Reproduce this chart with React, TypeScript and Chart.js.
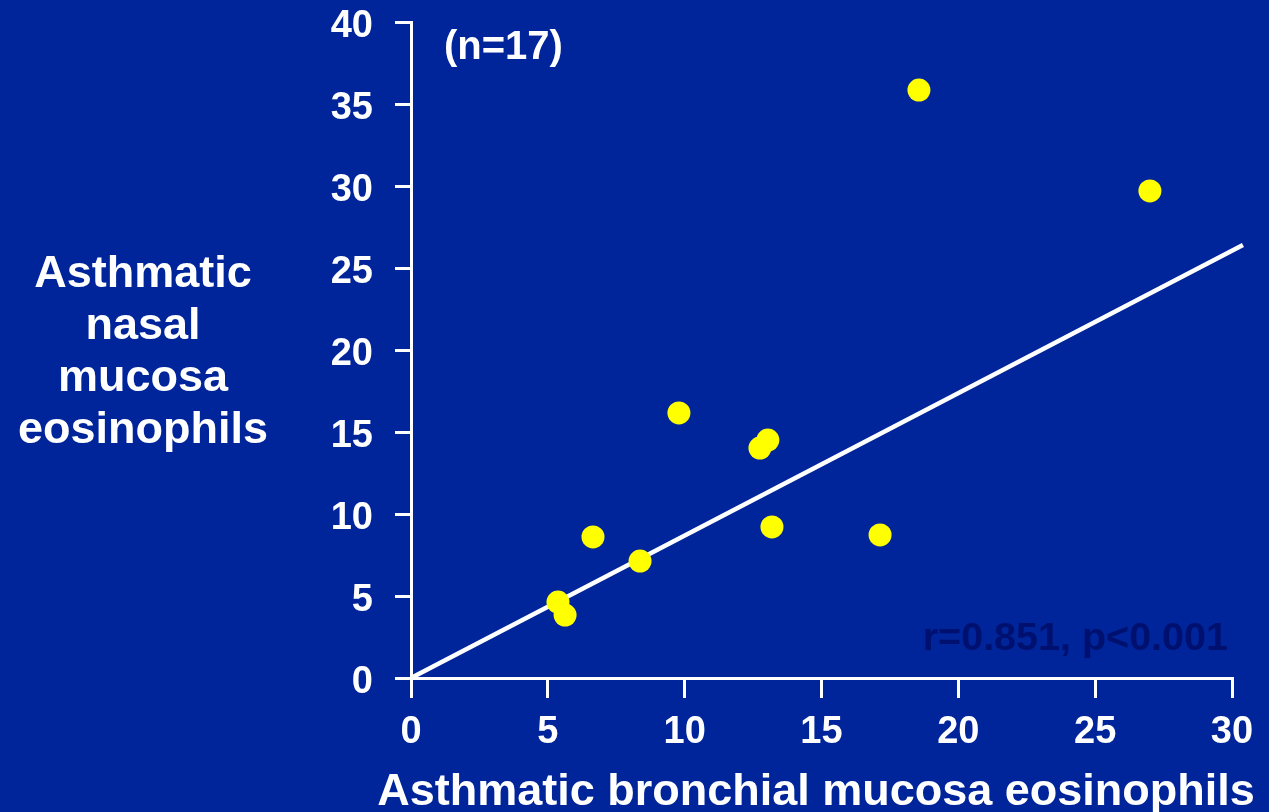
import React, { useEffect, useRef } from "react";
import { Chart, registerables } from "chart.js";

Chart.register(...registerables);

const bronchialX = [5.37, 5.63, 6.65, 8.37, 9.79, 12.75, 13.04, 13.19, 17.14, 18.56, 27.0];
const nasalY = [4.63, 3.84, 8.6, 7.13, 16.16, 14.02, 14.51, 9.21, 8.72, 35.85, 29.7];
const fitX = [0, 30.4];
const fitY = [0, 26.4];
const yTitleLines = ["Asthmatic", "nasal", "mucosa", "eosinophils"];
const xTitle = "Asthmatic bronchial mucosa eosinophils";
const nLabel = "(n=17)";
const statLabel = "r=0.851, p<0.001";

const BG = "#00249A";
const FONT = "'Liberation Sans', Arial, sans-serif";

export default function App() {
  const ref = useRef<HTMLCanvasElement | null>(null);

  useEffect(() => {
    if (!ref.current) return;
    const textPlugin = {
      id: "texts",
      beforeDraw(chart: any) {
        const ctx = chart.ctx;
        ctx.save();
        ctx.fillStyle = BG;
        ctx.fillRect(0, 0, chart.width, chart.height);
        ctx.restore();
      },
      afterDraw(chart: any) {
        const ctx = chart.ctx;
        ctx.save();
        ctx.fillStyle = "#ffffff";
        ctx.font = `bold 45px ${FONT}`;
        ctx.textAlign = "center";
        ctx.textBaseline = "alphabetic";
        yTitleLines.forEach((t, i) => ctx.fillText(t, 143, 287 + i * 52));
        ctx.font = `bold 45px ${FONT}`;
        ctx.fillText(xTitle, 816, 805);
        ctx.font = `bold 40px ${FONT}`;
        ctx.textAlign = "left";
        ctx.fillText(nLabel, 444, 59);
        ctx.font = `bold 39.5px ${FONT}`;
        ctx.fillStyle = "#00106E";
        ctx.textAlign = "right";
        ctx.fillText(statLabel, 1228, 650);
        ctx.restore();
      },
    };

    const chart = new Chart(ref.current, {
      type: "scatter",
      data: {
        datasets: [
          {
            type: "line",
            data: fitX.map((x, i) => ({ x, y: fitY[i] })),
            borderColor: "#ffffff",
            borderWidth: 4.5,
            pointRadius: 0,
            clip: false as any,
            order: 2,
          } as any,
          {
            data: bronchialX.map((x, i) => ({ x, y: nasalY[i] })),
            backgroundColor: "#FFFF00",
            borderWidth: 0,
            pointRadius: 11.5,
            order: 1,
          },
        ],
      },
      options: {
        animation: false,
        responsive: false,
        events: [],
        layout: { padding: { top: 22, right: 37, left: 0, bottom: 0 } },
        plugins: { legend: { display: false }, tooltip: { enabled: false } },
        scales: {
          x: {
            type: "linear",
            min: 0,
            max: 30,
            afterFit: (s: any) => {
              s.height = 134;
              s.paddingLeft = 0;
              s.paddingRight = 0;
              s.paddingTop = 0;
              s.paddingBottom = 0;
            },
            ticks: {
              stepSize: 5,
              color: "#ffffff",
              font: { family: FONT, size: 38, weight: "bold" },
              padding: 12,
              maxRotation: 0,
            },
            grid: {
              drawOnChartArea: false,
              drawTicks: true,
              tickLength: 20,
              color: "#ffffff",
              lineWidth: 3,
            },
            border: { display: true, color: "#ffffff", width: 3 },
          },
          y: {
            type: "linear",
            min: 0,
            max: 40,
            afterFit: (s: any) => {
              s.width = 411;
              s.paddingLeft = 0;
              s.paddingRight = 0;
              s.paddingTop = 0;
              s.paddingBottom = 0;
            },
            ticks: {
              stepSize: 5,
              color: "#ffffff",
              font: { family: FONT, size: 38, weight: "bold", lineHeight: 1.0 },
              padding: 22,
              labelOffset: 5,
            },
            grid: {
              drawOnChartArea: false,
              drawTicks: true,
              tickLength: 16,
              color: "#ffffff",
              lineWidth: 3,
            },
            border: { display: true, color: "#ffffff", width: 3 },
          },
        },
      },
      plugins: [textPlugin],
    } as any);
    return () => chart.destroy();
  }, []);

  return (
    <div style={{ position: "fixed", left: 0, top: 0, width: 1269, height: 812, background: BG }}>
      <canvas ref={ref} width={1269} height={812} style={{ display: "block" }} />
    </div>
  );
}
